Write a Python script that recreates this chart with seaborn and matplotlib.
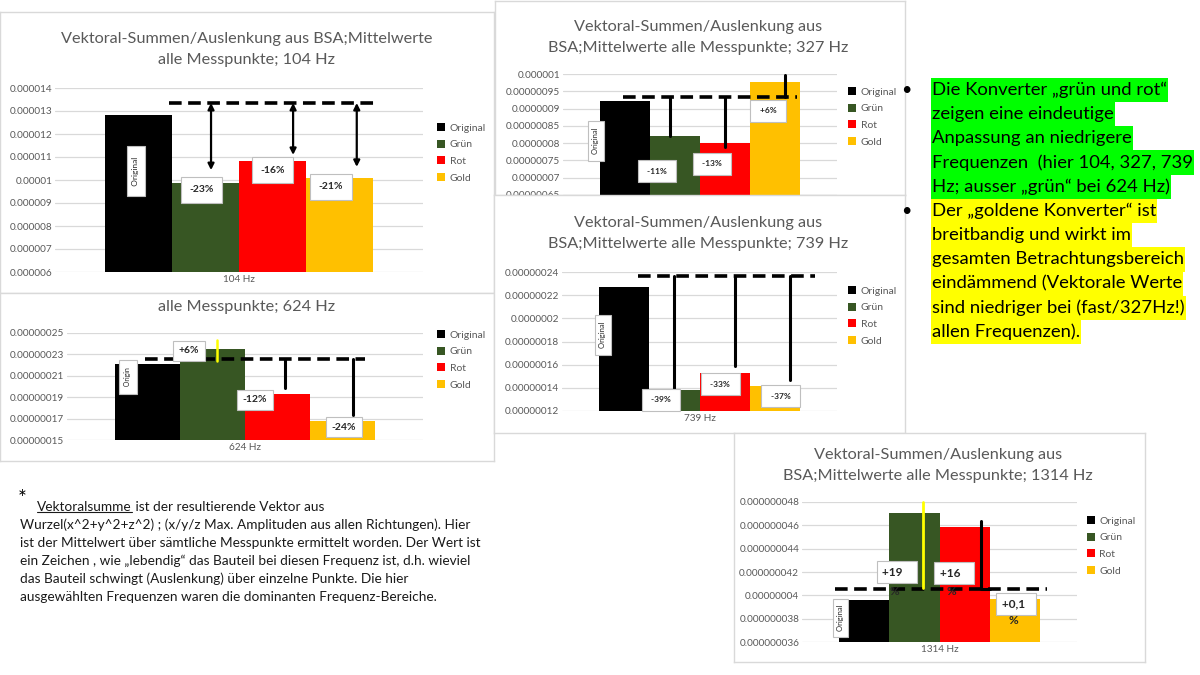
import numpy as np
import pandas as pd
import matplotlib
matplotlib.use('Agg')
import matplotlib.pyplot as plt
import seaborn as sns
from matplotlib.patches import Rectangle
from matplotlib.lines import Line2D

sns.set_style('white')
plt.rcParams['font.family'] = ['Lato', 'DejaVu Sans']

W, H = 1200, 675
GRAY = '#595959'
GRID = '#D9D9D9'

# ---- data ----
series = ['Original', 'Grün', 'Rot', 'Gold']
colors = ['#000000', '#375623', '#FF0000', '#FFC000']

vals_104 = [1.283e-5, 0.987e-5, 1.083e-5, 1.009e-5]
vals_624 = [2.21e-7, 2.35e-7, 1.93e-7, 1.68e-7]
vals_327 = [9.22e-7, 8.22e-7, 7.99e-7, 9.78e-7]
vals_739 = [2.27e-7, 1.38e-7, 1.53e-7, 1.42e-7]
vals_1314 = [3.96e-8, 4.71e-8, 4.59e-8, 3.97e-8]

pct_104 = ['-23%', '-16%', '-21%']
pct_624 = ['+6%', '-12%', '-24%']
pct_327 = ['-11%', '-13%', '+6%']
pct_739 = ['-39%', '-33%', '-37%']
pct_1314 = ['+19', '+16', '+0,1']

bullet_1 = ['Die Konverter „grün und rot“', 'zeigen eine eindeutige', 'Anpassung an niedrigere',
            'Frequenzen  (hier 104, 327, 739', 'Hz; ausser „grün“ bei 624 Hz)']
bullet_2 = ['Der „goldene Konverter“ ist', 'breitbandig und wirkt im', 'gesamten Betrachtungsbereich',
            'eindämmend (Vektorale Werte', 'sind niedriger bei (fast/327Hz!)', 'allen Frequenzen).']
note_lines = ['Wurzel(x^2+y^2+z^2) ; (x/y/z Max. Amplituden aus allen Richtungen). Hier',
              'ist der Mittelwert über sämtliche Messpunkte ermittelt worden. Der Wert ist',
              'ein Zeichen , wie „lebendig“ das Bauteil bei diesen Frequenz ist, d.h. wieviel',
              'das Bauteil schwingt (Auslenkung) über einzelne Punkte. Die hier',
              'ausgewählten Frequenzen waren die dominanten Frequenz-Bereiche.']

fig = plt.figure(figsize=(12, 6.75), dpi=100)


def px_rect(x0, y0, x1, y1):
    return [x0 / W, 1 - y1 / H, (x1 - x0) / W, (y1 - y0) / H]


def ftext(x, y, s, z=10, **kw):
    return fig.text(x / W, 1 - y / H, s, zorder=z, **kw)


def frame(x0, y0, x1, y1, z):
    ax = fig.add_axes(px_rect(x0, y0, x1, y1), zorder=z)
    ax.set_xticks([]); ax.set_yticks([])
    for s in ax.spines.values():
        s.set_color(GRID); s.set_linewidth(1)
    ax.set_facecolor('white')


def sci_fmt(v, pos):
    return f'{v:.10f}'.rstrip('0').rstrip('.')


def panel(box, freq, vals, ylim, nticks, z, legend_xy, title, title_xy):
    ax = fig.add_axes(px_rect(*box), zorder=z)
    ax.patch.set_alpha(0)
    df = pd.DataFrame({'freq': freq, 'series': series, 'value': vals})
    sns.barplot(data=df, x='freq', y='value', hue='series', palette=colors, saturation=1,
                width=0.73, gap=0, linewidth=0, ax=ax)
    ax.set_xlim(-0.5, 0.5)
    ax.set_ylim(*ylim)
    ax.set_yticks(np.linspace(ylim[0], ylim[1], nticks))
    ax.yaxis.set_major_formatter(plt.FuncFormatter(sci_fmt))
    ax.yaxis.grid(True, color=GRID, lw=0.9)
    ax.set_axisbelow(True)
    sns.despine(ax=ax, left=True, bottom=True)
    ax.tick_params(length=0, pad=2, labelsize=7.2, labelcolor=GRAY)
    ax.set_xlabel(''); ax.set_ylabel('')
    lx, ly = legend_xy
    sns.move_legend(ax, 'upper left', bbox_to_anchor=(lx / W, 1 - ly / H), bbox_transform=fig.transFigure,
                    frameon=False, title=None, fontsize=7.5, handlelength=0.8, handleheight=0.8,
                    handletextpad=0.4, labelspacing=0.68, borderpad=0, borderaxespad=0)
    for t in ax.get_legend().get_texts():
        t.set_color(GRAY)
    cx, cy = title_xy
    for i, line in enumerate(title):
        ftext(cx, cy + i * 21, line, z=z + 0.5, ha='center', va='center', fontsize=11.7, color=GRAY)
    return ax


def label_box(ax, x, y, s, size=7.5, pad=0.8):
    ax.text(x, y, s, ha='center', va='center', fontsize=size, fontweight='bold', zorder=6,
            bbox=dict(boxstyle=f'square,pad={pad}', fc='white', ec='#BFBFBF', lw=0.8))


def orig_box(ax, x, y, s='  Original  ', size=6, pad=0.7):
    ax.text(x, y, s, ha='center', va='center', rotation=90, fontsize=size, zorder=6,
            bbox=dict(boxstyle=f'square,pad={pad}', fc='white', ec='#BFBFBF', lw=0.8))


def dash(ax, x0, x1, y):
    ax.plot([x0, x1], [y, y], color='black', lw=2.6, ls=(0, (3.5, 1.8)), zorder=5, clip_on=False)


def vline(ax, x, y0, y1, color='black', lw=2.2):
    ax.plot([x, x], [y0, y1], color=color, lw=lw, zorder=5, clip_on=False)


title_long = ['Vektoral-Summen/Auslenkung aus', 'BSA;Mittelwerte alle Messpunkte; {}']

# ---- panel frames (back to front) ----
frame(0, 12, 494, 293, 0)
frame(0, 293, 494, 461, 0)
frame(495, 1, 905, 195, 0)
frame(494, 195, 905, 433, 2)
frame(734, 433, 1145, 662, 4)

# ---- 104 Hz ----
ax = panel((55, 88, 423, 272), '104 Hz', vals_104, (6e-6, 1.4e-5), 9, 1, (437, 123),
           ['Vektoral-Summen/Auslenkung aus BSA;Mittelwerte', 'alle Messpunkte; 104 Hz'], (247, 39))
dash(ax, -0.19, 0.375, 1.335e-5)
for x, yb in zip([-0.076, 0.147, 0.32], [1.043e-5, 1.109e-5, 1.057e-5]):
    ax.annotate('', xy=(x, yb), xytext=(x, 1.335e-5), zorder=5,
                arrowprops=dict(arrowstyle='<|-|>', color='black', lw=1.6, mutation_scale=9,
                                shrinkA=0, shrinkB=0))
for x, y, s in zip([-0.103, 0.092, 0.25], [9.57e-6, 1.043e-5, 9.7e-6], pct_104):
    label_box(ax, x, y, s)
orig_box(ax, -0.28, 1.039e-5)

# ---- 624 Hz ----
ax = panel((67, 333, 423, 440), '624 Hz', vals_624, (1.5e-7, 2.5e-7), 6, 1, (437, 330),
           ['alle Messpunkte; 624 Hz'], (247, 307))
dash(ax, -0.281, 0.337, 2.26e-7)
vline(ax, 0.112, 2.26e-7, 1.99e-7)
vline(ax, 0.303, 2.26e-7, 1.734e-7)
vline(ax, -0.079, 2.435e-7, 2.238e-7, color='#FFFF00', lw=1.8)
for x, y, s in zip([-0.157, 0.028, 0.278], [2.332e-7, 1.874e-7, 1.621e-7], pct_624):
    label_box(ax, x, y, s, pad=0.55)
orig_box(ax, -0.329, 2.089e-7, s=' Origin ', size=5, pad=0.8)

# ---- 327 Hz ----
ax = panel((563, 74, 837, 195), '327 Hz', vals_327, (6.5e-7, 1e-6), 8, 1, (848, 87),
           [title_long[0], title_long[1].format('327 Hz')], (698, 27))
dash(ax, -0.281, 0.354, 9.34e-7)
vline(ax, -0.109, 9.34e-7, 8.21e-7)
vline(ax, 0.091, 9.34e-7, 7.89e-7)
vline(ax, 0.310, 9.97e-7, 9.34e-7)
for x, y, s in zip([-0.157, 0.044, 0.248], [7.19e-7, 7.40e-7, 8.93e-7], pct_327):
    label_box(ax, x, y, f' {s} ', size=6, pad=0.9)
orig_box(ax, -0.380, 8.06e-7, s=' Original ', size=5.5, pad=0.6)

# ---- 739 Hz ----
ax = panel((562, 272, 837, 411), '739 Hz', vals_739, (1.2e-7, 2.4e-7), 7, 3, (848, 286),
           [title_long[0], title_long[1].format('739 Hz')], (698, 223))
dash(ax, -0.224, 0.42, 2.366e-7)
for x, yb in zip([-0.093, 0.129, 0.329], [1.399e-7, 1.588e-7, 1.468e-7]):
    vline(ax, x, 2.366e-7, yb)
for x, y, s in zip([-0.14, 0.075, 0.296], [1.295e-7, 1.433e-7, 1.329e-7], pct_739):
    label_box(ax, x, y, f' {s} ', size=6, pad=0.9)
orig_box(ax, -0.351, 1.856e-7, s=' Original ', size=5.5, pad=0.6)

# ---- 1314 Hz ----
ax = panel((802, 502, 1077, 642), '1314 Hz', vals_1314, (3.6e-8, 4.8e-8), 7, 5, (1087, 516),
           [title_long[0], title_long[1].format('1314 Hz')], (938, 455))
dash(ax, -0.38, 0.391, 4.054e-8)
vline(ax, -0.06, 4.8e-8, 4.063e-8, color='#FFFF00', lw=2)
ax.plot([0.151, 0.151, 0.184], [4.637e-8, 4.054e-8, 4.054e-8], color='black', lw=2.2, zorder=5)
for x, y, s in zip([-0.155, 0.053, 0.278], [4.2e-8, 4.191e-8, 3.926e-8], pct_1314):
    label_box(ax, x, y, s.ljust(6), size=8.5, pad=0.45)
for x, y in zip([-0.183, 0.024, 0.25], [4.035e-8, 4.035e-8, 3.78e-8]):
    ax.text(x, y, '%', fontsize=8.5, fontweight='bold', ha='left', va='center', zorder=7)
orig_box(ax, -0.36, 3.806e-8, s=' Original ', size=5.5, pad=0.5)

# ---- right-hand bullets with highlight ----
renderer = fig.canvas.get_renderer()
line_y = 90
for lines, hl in [(bullet_1, '#00FF00'), (bullet_2, '#FFFF00')]:
    ftext(906, line_y, '•', z=20, ha='center', va='center', fontsize=13, color='black')
    for s in lines:
        t = ftext(932, line_y, s, z=20, ha='left', va='center', fontsize=13.3, color='black')
        bb = t.get_window_extent(renderer)
        fig.add_artist(Rectangle(((bb.x0 - 1) / W, (H - line_y - 12.2) / H), (bb.width + 2) / W, 24.4 / H,
                                 transform=fig.transFigure, fc=hl, ec='none', zorder=19))
        line_y += 24.2

# ---- footnote ----
ftext(22, 499, '*', ha='center', va='center', fontsize=15, color='black')
t = ftext(37, 507, 'Vektoralsumme', ha='left', va='center', fontsize=9.8, color='#1a1a1a')
bb = t.get_window_extent(renderer)
fig.add_artist(Line2D([bb.x0 / W, bb.x1 / W], [(bb.y0 + 1) / H] * 2, transform=fig.transFigure,
                      color='#1a1a1a', lw=0.8))
ftext(bb.x1, 507, ' ist der resultierende Vektor aus', ha='left', va='center', fontsize=9.8, color='#1a1a1a')
for i, s in enumerate(note_lines):
    ftext(20, 525 + i * 18, s, ha='left', va='center', fontsize=9.8, color='#1a1a1a')

fig.savefig('out.png', dpi=100)
